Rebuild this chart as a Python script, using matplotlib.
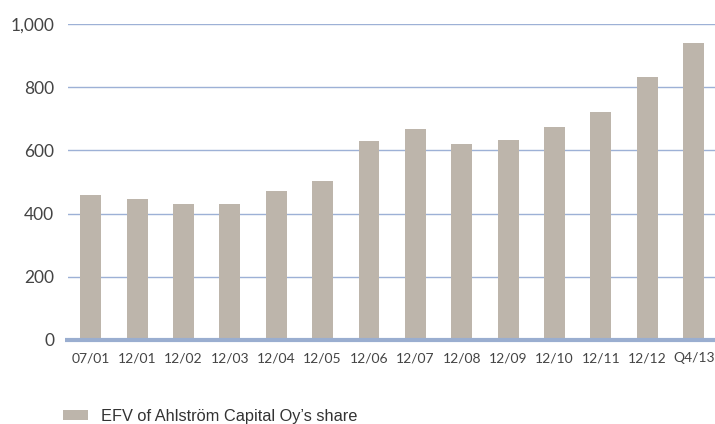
import matplotlib
matplotlib.use("Agg")
import matplotlib.pyplot as plt
from matplotlib.patches import Patch

categories = ["07/01", "12/01", "12/02", "12/03", "12/04", "12/05", "12/06",
              "12/07", "12/08", "12/09", "12/10", "12/11", "12/12", "Q4/13"]
values = [458, 445, 430, 430, 471, 502, 629, 667, 620, 632, 673, 721, 831, 939]
yticks = [0, 200, 400, 600, 800, 1000]
ytick_labels = ["0", "200", "400", "600", "800", "1,000"]
legend_label = "EFV of Ahlström Capital Oy’s share"

bar_color = "#BDB5AB"
grid_color = "#9DB1D6"

fig = plt.figure(figsize=(7.15, 4.24), dpi=100)
ax = fig.add_axes([68/715, 1 - 340/424, (715 - 68)/715, (340 - 24)/424])

x = list(range(len(categories)))
ax.bar(x, values, width=0.45, color=bar_color, zorder=2)

ax.set_ylim(0, 1000)
ax.set_xlim(-0.49, 13.46)
ax.set_yticks(yticks)
ax.set_yticklabels(ytick_labels)
ax.set_xticks(x)
ax.set_xticklabels(categories)

for t in yticks[1:]:
    ax.axhline(t, color=grid_color, lw=1.0, zorder=1)
ax.plot([-0.56, 13.46], [0, 0], color="#9AAED0", lw=3.0, zorder=3,
        clip_on=False, solid_capstyle="butt")

for s in ax.spines.values():
    s.set_visible(False)
ax.tick_params(axis="both", length=0)
ax.tick_params(axis="y", pad=10, labelsize=12.5)
ax.tick_params(axis="x", pad=9, labelsize=10)
for lab in ax.get_xticklabels() + ax.get_yticklabels():
    lab.set_family(["Lato", "DejaVu Sans"])
    lab.set_color("#444444")

handle = Patch(facecolor=bar_color, edgecolor="none")
fig.legend(handles=[handle], labels=[legend_label], loc="center left",
           bbox_to_anchor=(63/715, 1 - 416/424), frameon=False,
           borderpad=0, borderaxespad=0,
           handlelength=1.5, handleheight=0.55, handletextpad=0.8,
           prop={"family": "Liberation Sans", "size": 11.8},
           labelcolor="#333333")

fig.savefig("out.png", dpi=100)
